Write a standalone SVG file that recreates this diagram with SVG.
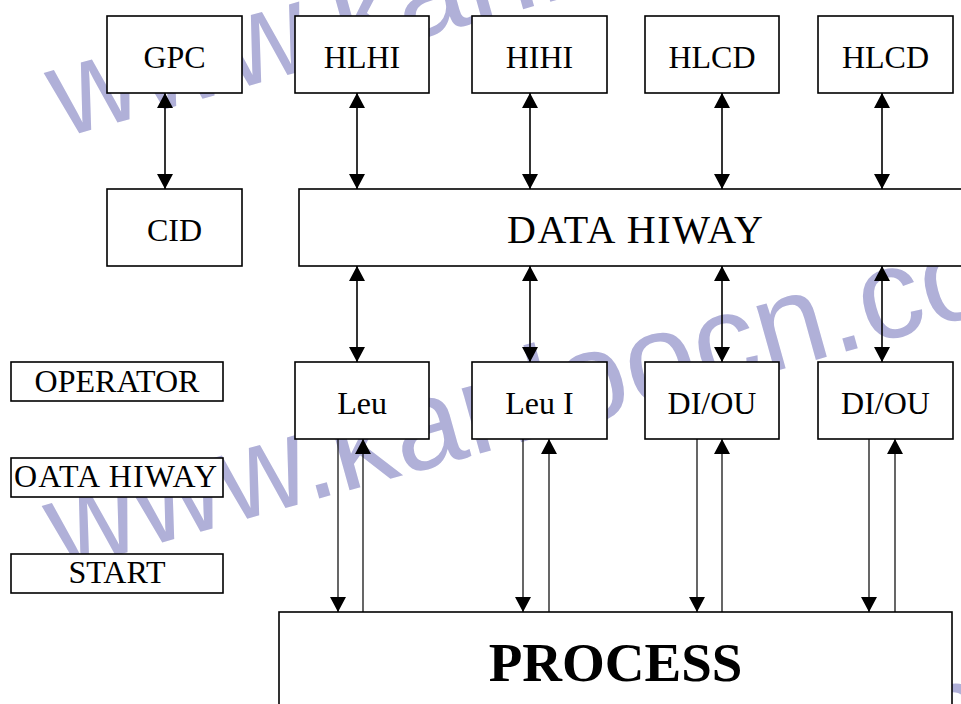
<svg xmlns="http://www.w3.org/2000/svg" xmlns:xlink="http://www.w3.org/1999/xlink" width="961" height="704" viewBox="0 0 961 704">
  <style>
    .box { fill: #ffffff; stroke: #000000; stroke-width: 1.6; }
    .lbl { font-family: "Liberation Serif", "Times New Roman", serif; font-size: 32px; fill: #000000; text-anchor: middle; }
    .left { text-anchor: start; }
    .big { font-size: 40px; }
    .proc { font-size: 55px; font-weight: bold; }
    .wm { font-family: "Liberation Sans", Arial, sans-serif; font-size: 128px; fill: #b0b0d8; }
    .bus { stroke: #000000; stroke-width: 1.6; fill: none; }
    .io { stroke: #000000; stroke-width: 1.2; fill: none; }
  </style>
  <defs>
    <marker id="head" viewBox="0 0 15 16" refX="15" refY="8" markerWidth="15" markerHeight="16" markerUnits="userSpaceOnUse" orient="auto-start-reverse">
      <path d="M0,0 L15,8 L0,16 Z" fill="#000000"/>
    </marker>
    <g id="wmark">
      <text x="0" y="0" textLength="292" lengthAdjust="spacingAndGlyphs">www.</text>
      <text x="292" y="0">kanloocn.com</text>
    </g>
  </defs>

  <rect width="961" height="704" fill="#ffffff"/>

  <!-- background watermark -->
  <g class="wm">
    <use xlink:href="#wmark" transform="translate(62,138) rotate(-15.6)"/>
    <use xlink:href="#wmark" transform="translate(60,571) rotate(-15.6)"/>
    <use xlink:href="#wmark" transform="translate(58,1004) rotate(-15.6)"/>
  </g>

  <!-- connectors -->
  <g id="connectors">
    <!-- top row to CID / data hiway -->
    <line class="bus" x1="165" y1="93" x2="165" y2="189" marker-start="url(#head)" marker-end="url(#head)"/>
    <line class="bus" x1="357" y1="93" x2="357" y2="189" marker-start="url(#head)" marker-end="url(#head)"/>
    <line class="bus" x1="530" y1="93" x2="530" y2="189" marker-start="url(#head)" marker-end="url(#head)"/>
    <line class="bus" x1="722" y1="93" x2="722" y2="189" marker-start="url(#head)" marker-end="url(#head)"/>
    <line class="bus" x1="882" y1="93" x2="882" y2="189" marker-start="url(#head)" marker-end="url(#head)"/>
    <!-- data hiway to units -->
    <line class="bus" x1="357" y1="266" x2="357" y2="362" marker-start="url(#head)" marker-end="url(#head)"/>
    <line class="bus" x1="530" y1="266" x2="530" y2="362" marker-start="url(#head)" marker-end="url(#head)"/>
    <line class="bus" x1="722" y1="266" x2="722" y2="362" marker-start="url(#head)" marker-end="url(#head)"/>
    <line class="bus" x1="882" y1="266" x2="882" y2="362" marker-start="url(#head)" marker-end="url(#head)"/>
    <!-- units to process (down) and process to units (up) -->
    <line class="io" x1="338" y1="439" x2="338" y2="612" marker-end="url(#head)"/>
    <line class="io" x1="363" y1="612" x2="363" y2="439" marker-end="url(#head)"/>
    <line class="io" x1="523" y1="439" x2="523" y2="612" marker-end="url(#head)"/>
    <line class="io" x1="549" y1="612" x2="549" y2="439" marker-end="url(#head)"/>
    <line class="io" x1="697" y1="439" x2="697" y2="612" marker-end="url(#head)"/>
    <line class="io" x1="722" y1="612" x2="722" y2="439" marker-end="url(#head)"/>
    <line class="io" x1="869" y1="439" x2="869" y2="612" marker-end="url(#head)"/>
    <line class="io" x1="895" y1="612" x2="895" y2="439" marker-end="url(#head)"/>
  </g>

  <!-- top row -->
  <g id="gpc"><rect class="box" x="107" y="16" width="135" height="77"/><text class="lbl" x="174.5" y="68">GPC</text></g>
  <g id="hlhi"><rect class="box" x="295" y="16" width="134" height="77"/><text class="lbl" x="362" y="68">HLHI</text></g>
  <g id="hihi"><rect class="box" x="472" y="16" width="135" height="77"/><text class="lbl" x="539.5" y="68">HIHI</text></g>
  <g id="hlcd1"><rect class="box" x="645" y="16" width="134" height="77"/><text class="lbl" x="712" y="68">HLCD</text></g>
  <g id="hlcd2"><rect class="box" x="818" y="16" width="135" height="77"/><text class="lbl" x="885.5" y="68">HLCD</text></g>

  <!-- second row -->
  <g id="cid"><rect class="box" x="107" y="189" width="135" height="77"/><text class="lbl" x="174.5" y="241">CID</text></g>
  <g id="data-hiway"><rect class="box" x="299" y="189" width="700" height="77"/><text class="lbl big left" x="507" y="243" textLength="256" lengthAdjust="spacing">DATA HIWAY</text></g>

  <!-- legend boxes -->
  <g id="operator"><rect class="box" x="11" y="362" width="212" height="39"/><text class="lbl" x="117" y="392">OPERATOR</text></g>
  <g id="oata-hiway"><rect class="box" x="11" y="458" width="212" height="39"/><text class="lbl left" x="14" y="487" textLength="203" lengthAdjust="spacing">OATA HIWAY</text></g>
  <g id="start"><rect class="box" x="11" y="554" width="212" height="39"/><text class="lbl" x="117" y="583">START</text></g>

  <!-- units -->
  <g id="leu"><rect class="box" x="295" y="362" width="134" height="77"/><text class="lbl" x="362" y="414">Leu</text></g>
  <g id="leu-i"><rect class="box" x="472" y="362" width="135" height="77"/><text class="lbl" x="539.5" y="414">Leu I</text></g>
  <g id="diou1"><rect class="box" x="645" y="362" width="134" height="77"/><text class="lbl" x="712" y="414">DI/OU</text></g>
  <g id="diou2"><rect class="box" x="818" y="362" width="135" height="77"/><text class="lbl" x="885.5" y="414">DI/OU</text></g>

  <!-- process -->
  <g id="process"><rect class="box" x="279" y="612" width="673" height="130"/><text class="lbl proc" x="615.5" y="681">PROCESS</text></g>
</svg>
